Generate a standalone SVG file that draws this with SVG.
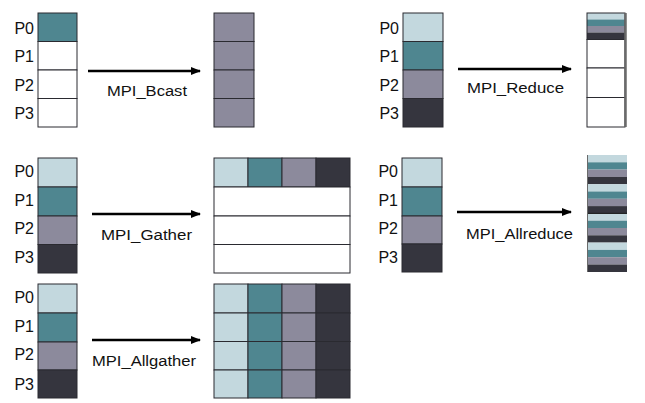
<svg xmlns="http://www.w3.org/2000/svg" width="645" height="403" viewBox="0 0 645 403">
<style>
text{font-family:"Liberation Sans",Arial,sans-serif;font-size:15.5px;fill:#111}
.p{text-anchor:end;font-size:16px}
.c{stroke:#2a2a30;stroke-width:1}
.w{fill:#fff}
.l{fill:#c3d8de}
.t{fill:#4f8690}
.g{fill:#8c8a9c}
.d{fill:#35353e}
.ar{stroke:#000;stroke-width:2.5;fill:none}
</style>
<defs>
<marker id="ah" viewBox="0 0 10 8" refX="9" refY="4" markerWidth="10" markerHeight="8" markerUnits="userSpaceOnUse" orient="auto">
<path d="M0,0 L10,4 L0,8 z" fill="#000"/>
</marker>
</defs>
<rect width="645" height="403" fill="#fff"/>

<g id="bcast-src">
<rect class="c t" x="38" y="13" width="39" height="28.5"/>
<rect class="c w" x="38" y="41.5" width="39" height="28.5"/>
<rect class="c w" x="38" y="70" width="39" height="28.5"/>
<rect class="c w" x="38" y="98.5" width="39" height="28.5"/>
<text class="p" x="34" y="34">P0</text><text class="p" x="34" y="62">P1</text><text class="p" x="34" y="91">P2</text><text class="p" x="34" y="119">P3</text>
</g>
<g id="bcast-dst">
<rect class="c g" x="214" y="13" width="40" height="28.5"/>
<rect class="c g" x="214" y="41.5" width="40" height="28.5"/>
<rect class="c g" x="214" y="70" width="40" height="28.5"/>
<rect class="c g" x="214" y="98.5" width="40" height="28.5"/>
</g>

<g id="reduce-src">
<rect class="c l" x="403" y="13" width="40" height="28.5"/>
<rect class="c t" x="403" y="41.5" width="40" height="28.5"/>
<rect class="c g" x="403" y="70" width="40" height="28.5"/>
<rect class="c d" x="403" y="98.5" width="40" height="28.5"/>
<text class="p" x="399" y="34">P0</text><text class="p" x="399" y="62">P1</text><text class="p" x="399" y="91">P2</text><text class="p" x="399" y="119">P3</text>
</g>
<g id="reduce-dst">
<rect class="l" x="587" y="13" width="38" height="6.5"/>
<rect class="t" x="587" y="19.5" width="38" height="6.5"/>
<rect class="g" x="587" y="26" width="38" height="6.5"/>
<rect class="d" x="587" y="32.5" width="38" height="7"/>
<rect class="c" x="587" y="13" width="38" height="26.5" fill="none"/>
<rect class="c w" x="587" y="39.5" width="38" height="28.5" stroke="#555"/>
<rect class="c w" x="587" y="68" width="38" height="29.5" stroke="#555"/>
<rect class="c w" x="587" y="97.5" width="38" height="29.5" stroke="#555"/>
<line x1="625.5" y1="13" x2="625.5" y2="127" stroke="#6a6a6a" stroke-width="2.5"/>
</g>

<g id="gather-src">
<rect class="c l" x="38" y="158" width="39" height="29"/>
<rect class="c t" x="38" y="187" width="39" height="29"/>
<rect class="c g" x="38" y="216" width="39" height="28.5"/>
<rect class="c d" x="38" y="244.5" width="39" height="28.5"/>
<text class="p" x="34" y="177">P0</text><text class="p" x="34" y="206">P1</text><text class="p" x="34" y="234">P2</text><text class="p" x="34" y="263">P3</text>
</g>
<g id="gather-dst">
<rect class="c l" x="214" y="158" width="34" height="29"/>
<rect class="c t" x="248" y="158" width="34" height="29"/>
<rect class="c g" x="282" y="158" width="34" height="29"/>
<rect class="c d" x="316" y="158" width="34" height="29"/>
<rect class="c w" x="214" y="187" width="136" height="29"/>
<rect class="c w" x="214" y="216" width="136" height="28.5"/>
<rect class="c w" x="214" y="244.5" width="136" height="28.5"/>
</g>

<g id="allreduce-src">
<rect class="c l" x="402" y="158" width="40" height="29"/>
<rect class="c t" x="402" y="187" width="40" height="29"/>
<rect class="c g" x="402" y="216" width="40" height="28"/>
<rect class="c d" x="402" y="244" width="40" height="28"/>
<text class="p" x="398" y="177">P0</text><text class="p" x="398" y="206">P1</text><text class="p" x="398" y="234">P2</text><text class="p" x="398" y="263">P3</text>
</g>
<g id="allreduce-dst">
<rect class="l" x="587" y="155" width="40" height="7.3"/><rect class="t" x="587" y="162.3" width="40" height="7.3"/><rect class="g" x="587" y="169.6" width="40" height="7.3"/><rect class="d" x="587" y="176.9" width="40" height="7.3"/>
<rect class="l" x="587" y="184.2" width="40" height="7.3"/><rect class="t" x="587" y="191.5" width="40" height="7.3"/><rect class="g" x="587" y="198.8" width="40" height="7.3"/><rect class="d" x="587" y="206.1" width="40" height="7.3"/>
<rect class="l" x="587" y="213.4" width="40" height="7.3"/><rect class="t" x="587" y="220.7" width="40" height="7.3"/><rect class="g" x="587" y="228" width="40" height="7.3"/><rect class="d" x="587" y="235.3" width="40" height="7.3"/>
<rect class="l" x="587" y="242.6" width="40" height="7.3"/><rect class="t" x="587" y="249.9" width="40" height="7.3"/><rect class="g" x="587" y="257.2" width="40" height="7.3"/><rect class="d" x="587" y="264.5" width="40" height="7.5"/>
<line x1="587" y1="213.4" x2="627" y2="213.4" stroke="#111" stroke-width="1"/>
<line x1="587.5" y1="155" x2="587.5" y2="272" stroke="#6a6a6a" stroke-width="1"/>
</g>

<g id="allgather-src">
<rect class="c l" x="38" y="284" width="39" height="29"/>
<rect class="c t" x="38" y="313" width="39" height="29"/>
<rect class="c g" x="38" y="342" width="39" height="28"/>
<rect class="c d" x="38" y="370" width="39" height="28"/>
<text class="p" x="34" y="303">P0</text><text class="p" x="34" y="332">P1</text><text class="p" x="34" y="360">P2</text><text class="p" x="34" y="390">P3</text>
</g>
<g id="allgather-dst">
<rect class="c l" x="214" y="284" width="34" height="29"/><rect class="c t" x="248" y="284" width="34" height="29"/><rect class="c g" x="282" y="284" width="34" height="29"/><rect class="c d" x="316" y="284" width="34" height="29"/>
<rect class="c l" x="214" y="313" width="34" height="28.5"/><rect class="c t" x="248" y="313" width="34" height="28.5"/><rect class="c g" x="282" y="313" width="34" height="28.5"/><rect class="c d" x="316" y="313" width="34" height="28.5"/>
<rect class="c l" x="214" y="341.5" width="34" height="28.5"/><rect class="c t" x="248" y="341.5" width="34" height="28.5"/><rect class="c g" x="282" y="341.5" width="34" height="28.5"/><rect class="c d" x="316" y="341.5" width="34" height="28.5"/>
<rect class="c l" x="214" y="370" width="34" height="28"/><rect class="c t" x="248" y="370" width="34" height="28"/><rect class="c g" x="282" y="370" width="34" height="28"/><rect class="c d" x="316" y="370" width="34" height="28"/>
</g>

<g id="connectors">
<line class="ar" x1="88" y1="71" x2="200" y2="71" marker-end="url(#ah)"/>
<line class="ar" x1="458" y1="69" x2="571" y2="69" marker-end="url(#ah)"/>
<line class="ar" x1="92" y1="214" x2="200" y2="214" marker-end="url(#ah)"/>
<line class="ar" x1="457" y1="212" x2="571" y2="212" marker-end="url(#ah)"/>
<line class="ar" x1="92" y1="340" x2="200" y2="340" marker-end="url(#ah)"/>
<text x="107" y="96" textLength="80" lengthAdjust="spacingAndGlyphs">MPI_Bcast</text>
<text x="467" y="93" textLength="97" lengthAdjust="spacingAndGlyphs">MPI_Reduce</text>
<text x="101" y="240" textLength="91" lengthAdjust="spacingAndGlyphs">MPI_Gather</text>
<text x="466" y="239" textLength="107" lengthAdjust="spacingAndGlyphs">MPI_Allreduce</text>
<text x="92" y="366" textLength="104" lengthAdjust="spacingAndGlyphs">MPI_Allgather</text>
</g>
</svg>
